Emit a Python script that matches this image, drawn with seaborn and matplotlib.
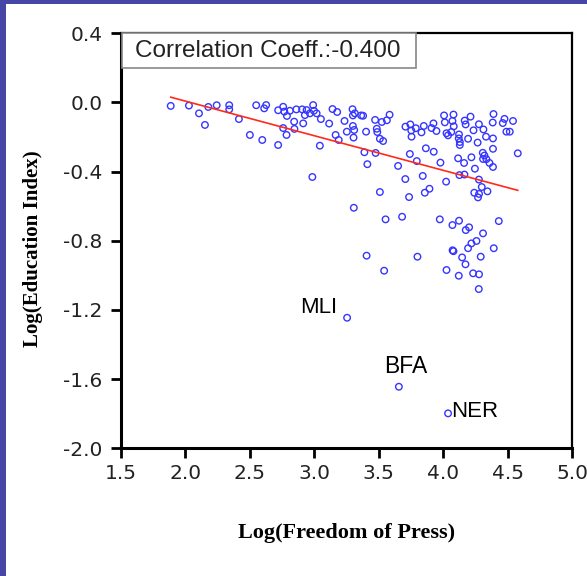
import numpy as np
import pandas as pd
import seaborn as sns
import matplotlib.pyplot as plt
from matplotlib.patches import Rectangle

# values
press = [1.889, 2.030, 2.108, 2.154, 2.180, 2.245, 2.342, 2.342, 2.417, 2.502,
         2.551, 2.598, 2.613, 2.628, 2.721, 2.721, 2.760, 2.769, 2.789, 2.812,
         2.760, 2.786, 2.845, 2.862, 2.847, 2.907, 2.941, 2.928, 2.915, 2.967,
         2.992, 2.998, 3.019, 3.052, 3.116, 3.142, 3.178, 3.044, 3.166, 3.190,
         3.235, 3.253, 3.297, 3.300, 3.315, 3.300, 3.310, 3.305, 3.364, 3.379,
         3.402, 3.472, 3.485, 3.489, 3.509, 3.534, 3.524, 3.563, 3.584, 3.389,
         3.476, 3.412, 3.650, 3.706, 3.741, 3.707, 3.745, 3.752, 3.754, 2.986,
         3.509, 3.787, 3.849, 3.924, 3.909, 3.947, 4.006, 4.079, 4.012, 4.071,
         4.081, 4.025, 4.037, 4.062, 4.211, 4.389, 4.474, 4.540, 4.166, 4.173,
         4.276, 4.383, 4.461, 3.831, 4.122, 4.120, 4.128, 4.128, 4.192, 4.234,
         4.266, 4.311, 4.331, 4.385, 4.489, 4.515, 4.385, 4.577, 3.865, 3.926,
         3.795, 3.978, 4.115, 4.161, 4.245, 4.306, 4.319, 4.308, 4.334, 4.358,
         4.385, 4.218, 3.841, 4.022, 4.125, 4.164, 4.276, 4.298, 3.893, 3.857,
         3.735, 4.342, 4.240, 4.277, 4.269, 3.307, 3.553, 3.681, 3.973, 4.071,
         4.122, 4.174, 4.200, 4.430, 4.308, 4.257, 4.218, 4.192, 4.391, 4.072,
         4.079, 4.146, 4.172, 4.290, 3.406, 3.800, 3.542, 4.025, 4.120, 4.231,
         4.277, 4.275, 3.255, 3.656, 4.037]
education = [-0.020, -0.018, -0.063, -0.130, -0.026, -0.016, -0.016, -0.040, -0.096, -0.188,
             -0.016, -0.217, -0.034, -0.015, -0.045, -0.246, -0.025, -0.053, -0.078, -0.048,
             -0.148, -0.188, -0.111, -0.040, -0.153, -0.040, -0.044, -0.073, -0.121, -0.063,
             -0.015, -0.048, -0.063, -0.096, -0.122, -0.038, -0.055, -0.250, -0.188, -0.217,
             -0.107, -0.169, -0.039, -0.075, -0.063, -0.136, -0.159, -0.203, -0.075, -0.077,
             -0.169, -0.101, -0.152, -0.171, -0.210, -0.223, -0.113, -0.103, -0.071, -0.288,
             -0.292, -0.357, -0.367, -0.443, -0.298, -0.140, -0.127, -0.162, -0.198, -0.431,
             -0.518, -0.149, -0.136, -0.121, -0.148, -0.165, -0.075, -0.070, -0.115, -0.107,
             -0.138, -0.178, -0.190, -0.171, -0.082, -0.067, -0.095, -0.107, -0.105, -0.127,
             -0.126, -0.116, -0.119, -0.173, -0.185, -0.208, -0.229, -0.246, -0.210, -0.161,
             -0.232, -0.156, -0.198, -0.208, -0.169, -0.169, -0.268, -0.294, -0.265, -0.285,
             -0.339, -0.348, -0.323, -0.350, -0.383, -0.291, -0.307, -0.327, -0.328, -0.350,
             -0.373, -0.317, -0.425, -0.458, -0.420, -0.417, -0.446, -0.489, -0.499, -0.522,
             -0.547, -0.514, -0.522, -0.529, -0.549, -0.609, -0.676, -0.661, -0.676, -0.709,
             -0.684, -0.738, -0.722, -0.686, -0.757, -0.801, -0.815, -0.843, -0.843, -0.855,
             -0.860, -0.896, -0.936, -0.892, -0.886, -0.892, -0.973, -0.969, -1.002, -0.988,
             -0.994, -1.079, -1.245, -1.644, -1.798]

labels = ["MLI", "BFA", "NER"]
label_press = [3.255, 3.656, 4.037]
label_edu = [-1.245, -1.644, -1.798]

xticks = [1.5, 2.0, 2.5, 3.0, 3.5, 4.0, 4.5, 5.0]
yticks = [-2.0, -1.6, -1.2, -0.8, -0.4, 0.0, 0.4]
xtick_labels = ["1.5", "2.0", "2.5", "3.0", "3.5", "4.0", "4.5", "5.0"]
ytick_labels = ["-2.0", "-1.6", "-1.2", "-0.8", "-0.4", "0.0", "0.4"]

corr_text = "Correlation Coeff.:-0.400"

df = pd.DataFrame({"press": press, "education": education})

fig = plt.figure(figsize=(5.87, 5.76), dpi=100)
ax = fig.add_axes([0.2053, 0.2217, 0.9751 - 0.2053, 0.9422 - 0.2217])

sns.scatterplot(data=df, x="press", y="education", ax=ax, marker="o", s=22,
                facecolors="none", edgecolor="#3535ff", linewidth=1.0)
sns.regplot(data=df, x="press", y="education", ax=ax, scatter=False, ci=None,
            truncate=True, line_kws={"color": "#ff2a1a", "linewidth": 1.2})

ax.set_xlim(1.5, 5.0)
ax.set_ylim(-2.0, 0.4)
ax.set_xticks(xticks, xtick_labels)
ax.set_yticks(yticks, ytick_labels)
ax.tick_params(direction="out", length=7, width=2, labelsize=14.5,
               colors="black", labelcolor="#222222")
ax.tick_params(axis="x", pad=4)
ax.tick_params(axis="y", pad=6)
for side in ["left", "bottom"]:
    ax.spines[side].set_linewidth(2.2)
for side in ["top", "right"]:
    ax.spines[side].set_linewidth(1.6)

ax.set_xlabel("Log(Freedom of Press)", family="Liberation Serif",
              fontweight="bold", fontsize=16)
ax.set_ylabel("Log(Education Index)", family="Liberation Serif",
              fontweight="bold", fontsize=15)
ax.xaxis.set_label_coords(0.5, -0.18)
ax.yaxis.set_label_coords(-0.172, 0.48)

for lab, lx, ly in zip(labels, label_press, label_edu):
    if lab == "MLI":
        ax.annotate(lab, (lx, ly), xytext=(-7, 0), textcoords="offset points",
                    ha="right", va="bottom", fontsize=16, family="Liberation Sans")
    elif lab == "BFA":
        ax.annotate(lab, (lx, ly), xytext=(5, 6), textcoords="offset points",
                    ha="center", va="bottom", fontsize=16.5, family="Liberation Sans")
    else:
        ax.annotate(lab, (lx, ly), xytext=(2, 1), textcoords="offset points",
                    ha="left", va="center", fontsize=16, family="Liberation Sans")

# box for the correlation note, hugging the top-left corner
ax.add_patch(Rectangle((0.003, 0.9157), 0.651, 0.0843, transform=ax.transAxes,
                       facecolor="white", edgecolor="#888888", linewidth=1.2,
                       zorder=4, clip_on=False))
ax.text(0.031, 0.958, corr_text, transform=ax.transAxes, ha="left", va="center",
        fontsize=17.5, family="Liberation Sans", color="#222222", zorder=5)

# blue slide border on the left and top
fig.patches.append(Rectangle((0, 0), 6 / 587, 1, transform=fig.transFigure,
                             facecolor="#4646a6", edgecolor="none"))
fig.patches.append(Rectangle((0, 1 - 4 / 576), 1, 4 / 576, transform=fig.transFigure,
                             facecolor="#4646a6", edgecolor="none"))

fig.savefig("out.png", dpi=100)
